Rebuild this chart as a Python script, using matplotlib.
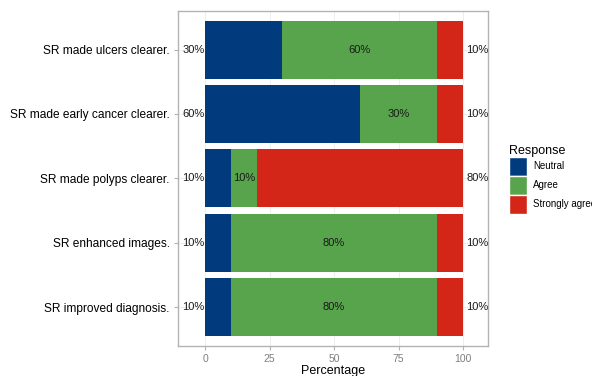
import matplotlib.pyplot as plt
import numpy as np
from matplotlib.patches import Patch

plt.rcParams['font.family'] = ['Liberation Sans', 'DejaVu Sans']

categories = ['SR made ulcers clearer.', 'SR made early cancer clearer.',
              'SR made polyps clearer.', 'SR enhanced images.',
              'SR improved diagnosis.']
neutral = [30, 60, 10, 10, 10]
agree = [60, 30, 10, 80, 80]
strongly = [10, 10, 80, 10, 10]
responses = ['Neutral', 'Agree', 'Strongly agree']
colors = ['#023a7e', '#57a44c', '#d42519']

fig = plt.figure(figsize=(5.92, 3.76), dpi=100)
ax = fig.add_axes([0.3007, 0.0806, 0.5236, 0.8901])

y = np.arange(len(categories))[::-1] + 1
neutral = np.array(neutral)
agree = np.array(agree)
strongly = np.array(strongly)

ax.set_axisbelow(True)
ax.grid(True, color='#ebebeb', linewidth=0.6)
ax.barh(y, neutral, height=0.9, color=colors[0], zorder=2)
ax.barh(y, agree, left=neutral, height=0.9, color=colors[1], zorder=2)
ax.barh(y, strongly, left=neutral + agree, height=0.9, color=colors[2], zorder=2)

# labels: neutral on the left, agree centred, strongly agree on the right
for yi, n, a, s in zip(y, neutral, agree, strongly):
    ax.text(-4.6, yi, f'{n}%', ha='center', va='center', fontsize=8, color='#1a1a1a')
    ax.text(n + a / 2, yi, f'{a}%', ha='center', va='center', fontsize=8, color='#1a1a1a')
    ax.text(105.5, yi, f'{s}%', ha='center', va='center', fontsize=8, color='#1a1a1a')

ax.set_xlim(-10.5, 109.7)
ax.set_ylim(0.4, 5.6)
ax.set_xticks([0, 25, 50, 75, 100])
ax.set_yticks(y)
ax.set_yticklabels(categories, fontsize=8.6, color='black')
ax.tick_params(axis='x', labelsize=7.5, labelcolor='#7f7f7f', color='#b3b3b3', length=3, pad=3)
ax.tick_params(axis='y', color='#b3b3b3', length=3, pad=3)
ax.set_xlabel('Percentage', fontsize=9, labelpad=1)
for sp in ax.spines.values():
    sp.set_color('#b3b3b3')
    sp.set_linewidth(1.0)

handles = [Patch(facecolor=c, edgecolor='white', label=r) for r, c in zip(responses, colors)]
fig.legend(handles=handles, title='Response', loc='upper left',
           bbox_to_anchor=(0.859, 0.614), frameon=False, fontsize=7,
           title_fontsize=9, handlelength=1.9, handleheight=2.6,
           handletextpad=0.65, labelspacing=0.0, alignment='left',
           borderaxespad=0, borderpad=0)

plt.savefig('out.png', dpi=100)
